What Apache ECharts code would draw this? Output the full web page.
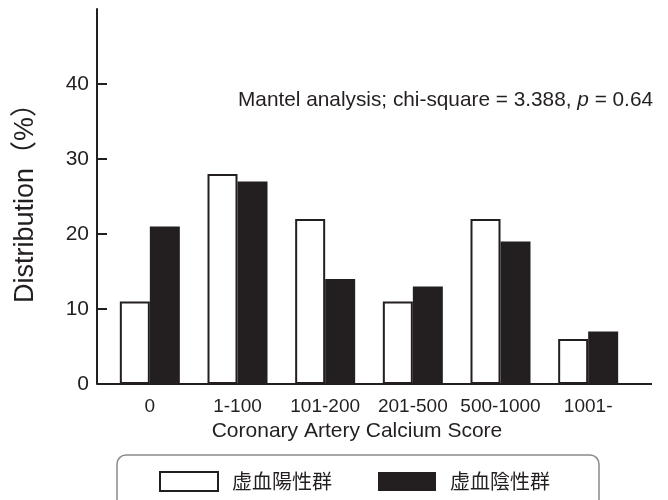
<!DOCTYPE html>
<html>
<head>
<meta charset="utf-8">
<script src="https://cdn.jsdelivr.net/npm/echarts@6/dist/echarts.min.js"></script>
<style>
  html, body { margin: 0; padding: 0; background: #fff; }
  #main { width: 668px; height: 500px; }
</style>
</head>
<body>
<div id="main"></div>
<script>
// data
var categories = ['0', '1-100', '101-200', '201-500', '500-1000', '1001-'];
var positiveVals = [11, 28, 22, 11, 22, 6];   // 虚血陽性群 (white)
var negativeVals = [21, 27, 14, 13, 19, 7];   // 虚血陰性群 (black)
var yTicks = [0, 10, 20, 30, 40];

var INK = '#231f20';
var FONT = '"Liberation Sans", Arial, "Noto Sans CJK JP", sans-serif';

var chart = echarts.init(document.getElementById('main'));

var option = {
  animation: false,
  backgroundColor: '#fff',
  textStyle: { fontFamily: FONT, color: INK },
  title: {
    left: 238,
    top: 90,
    padding: 0,
    text: '{a|Mantel analysis; chi-square = 3.388, }{i|p}{a| = 0.64}',
    textStyle: {
      fontWeight: 'normal',
      rich: {
        a: { fontSize: 20.8, color: INK, fontFamily: FONT, fontWeight: 'normal' },
        i: { fontSize: 20.8, color: INK, fontFamily: FONT, fontWeight: 'normal', fontStyle: 'italic' }
      }
    }
  },
  grid: { left: 106, right: 36, top: 9, bottom: 116, containLabel: false },
  legend: {
    left: 117,
    top: 455,
    padding: [16, 49, 30, 42],
    borderColor: '#8a8a8a',
    borderWidth: 1.5,
    borderRadius: 9,
    itemWidth: 58,
    itemHeight: 19,
    itemGap: 46,
    icon: 'rect',
    textStyle: { fontSize: 20, color: INK, fontFamily: '"Noto Sans CJK JP", sans-serif', padding: [0, 0, 0, 9] },
    data: ['虚血陽性群', '虚血陰性群']
  },
  xAxis: {
    type: 'category',
    data: categories,
    axisLine: { show: false },
    axisTick: { show: false },
    axisLabel: { fontSize: 19, color: INK, margin: 13, interval: 0 },
    name: 'Coronary Artery Calcium Score',
    nameLocation: 'middle',
    nameGap: 37,
    nameTextStyle: { fontSize: 21, color: INK, padding: [0, 24, 0, 0] }
  },
  yAxis: {
    type: 'value',
    min: 0,
    max: 50,
    interval: 10,
    offset: 9,
    axisLine: { show: true, lineStyle: { color: INK, width: 2 } },
    axisTick: { show: true, inside: true, length: 10, lineStyle: { color: INK, width: 2 }, customValues: yTicks },
    axisLabel: {
      fontSize: 21, color: INK, margin: 8, customValues: yTicks,
      formatter: function (v) { return v >= 50 ? '' : v; }
    },
    splitLine: { show: false },
    name: 'Distribution（%）',
    nameLocation: 'middle',
    nameRotate: 90,
    nameGap: 58,
    nameTextStyle: { fontSize: 27, color: INK, padding: 0 }
  },
  series: [
    {
      name: '虚血陽性群',
      type: 'bar',
      data: positiveVals,
      barWidth: 30,
      barGap: '0%',
      itemStyle: { color: '#fff', borderColor: INK, borderWidth: 2 }
    },
    {
      name: '虚血陰性群',
      type: 'bar',
      data: negativeVals,
      barWidth: 30,
      barGap: '0%',
      itemStyle: { color: INK, borderColor: INK, borderWidth: 0 }
    }
  ],
  graphic: [
    {
      // baseline runs past the plot on both sides, as in the figure
      type: 'line',
      shape: { x1: 97, y1: 384, x2: 652, y2: 384 },
      style: { stroke: INK, lineWidth: 2 },
      z: 10
    }
  ]
};

chart.setOption(option);
</script>
</body>
</html>
